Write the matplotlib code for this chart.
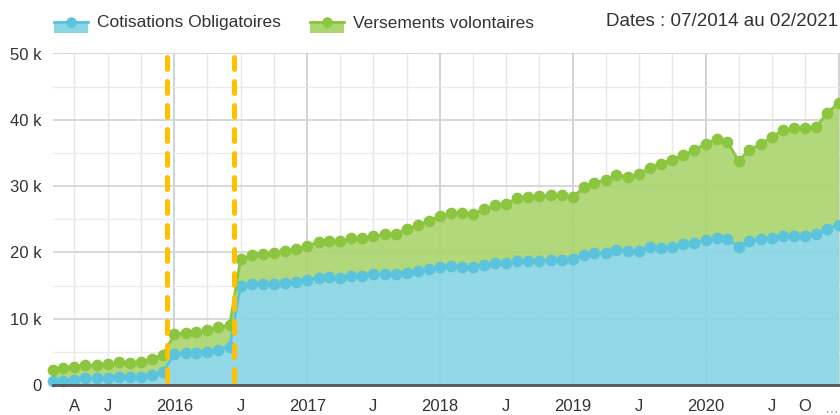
import numpy as np
import pandas as pd
import matplotlib
matplotlib.use("Agg")
import matplotlib.pyplot as plt
import matplotlib.dates as mdates
from matplotlib.patches import Rectangle
from matplotlib.lines import Line2D
from matplotlib.ticker import FuncFormatter, MultipleLocator

plt.rcParams['font.family'] = ['Liberation Sans', 'DejaVu Sans']

# Données mensuelles (euros), fév. 2015 -> janv. 2021
mois = pd.date_range("2015-02-01", "2021-01-01", freq="MS")

cotisations = [
    650, 650, 700, 1000, 1000, 1000, 1250, 1250, 1250, 1500, 2000,
    4650, 4850, 4900, 5000, 5350, 5750, 14950, 15200, 15200, 15250, 15450, 15600,
    15900, 16200, 16250, 16200, 16500, 16500, 16750, 16700, 16750, 16950, 17250, 17450,
    17750, 17950, 17850, 17750, 18100, 18350, 18350, 18750, 18750, 18750, 18850, 18900,
    19000, 19600, 19850, 19850, 20350, 20200, 20200, 20850, 20700, 20850, 21200, 21400,
    21850, 22200, 22000, 20850, 21700, 22000, 22200, 22500, 22500, 22500, 22700, 23500,
    24200,
]
versements = [
    1600, 1850, 2050, 2000, 2000, 2100, 2150, 2100, 2150, 2450, 2600,
    3000, 3050, 3100, 3300, 3400, 3250, 4050, 4400, 4550, 4700, 4800, 4850,
    5100, 5400, 5450, 5500, 5600, 5600, 5650, 6100, 6050, 6550, 6850, 7350,
    7750, 8050, 8050, 8050, 8400, 8750, 8950, 9450, 9650, 9750, 9850, 9800,
    9400, 10200, 10650, 11050, 11350, 11200, 11600, 11950, 12700, 13150, 13500, 14000,
    14550, 14850, 14700, 12950, 13800, 14300, 15250, 15900, 16200, 16200, 16250, 17600,
    18300,
]

series = ["Cotisations Obligatoires", "Versements volontaires"]
periode = "Dates : 07/2014 au 02/2021"

# repères verticaux (changements)
reperes = ["2015-12-11", "2016-06-13"]

tick_dates = ["2015-04-01", "2015-07-01", "2016-01-01", "2016-07-01", "2017-01-01",
              "2017-07-01", "2018-01-01", "2018-07-01", "2019-01-01", "2019-07-01",
              "2020-01-01", "2020-07-01", "2020-10-01"]
tick_labels = ["A", "J", "2016", "J", "2017", "J", "2018", "J", "2019", "J",
               "2020", "J", "O"]

bleu_fill = "#89d5e4"
bleu_line = "#5bc3db"
vert_fill = "#abd56f"
vert_line = "#8cc640"
orange = "#ffc000"

W, H = 840, 415
fig = plt.figure(figsize=(W / 100, H / 100), dpi=100)
ax = fig.add_axes([53 / W, (H - 385) / H, 1 - 53 / W, (385 - 53.5) / H])

x = mdates.date2num(mois)
ob = np.array(cotisations, dtype=float)
tot = ob + np.array(versements, dtype=float)

ax.fill_between(x, 0, ob, color=bleu_fill, alpha=0.92, lw=0, zorder=2)
ax.fill_between(x, ob, tot, color=vert_fill, alpha=0.92, lw=0, zorder=2)
ax.plot(x, ob, color=bleu_line, lw=2, marker="o", ms=7.4, mec=bleu_line, zorder=4, clip_on=False)
ax.plot(x, tot, color=vert_line, lw=2, marker="o", ms=7.4, mec=vert_line, zorder=4, clip_on=False)

for d in reperes:
    xd = mdates.date2num(pd.Timestamp(d))
    ax.plot([xd, xd], [49400, 0], color=orange, lw=3.6,
            linestyle=(0, (2.4, 2.4)), dash_capstyle="round", zorder=6)

ax.set_ylim(0, 50000)
ax.set_xlim(x[0], mdates.date2num(pd.Timestamp("2021-01-05")))

# grilles
ax.yaxis.set_major_locator(MultipleLocator(10000))
ax.yaxis.set_minor_locator(MultipleLocator(5000))
ax.xaxis.set_major_locator(mdates.YearLocator())
ax.xaxis.set_minor_locator(mdates.MonthLocator(bymonth=[4, 7, 10]))
ax.grid(True, which="major", axis="y", color="#d6d6d6", lw=1.3, zorder=0)
ax.grid(True, which="minor", axis="y", color="#ebebeb", lw=1.0, zorder=0)
ax.grid(True, which="major", axis="x", color="#d0d0d0", lw=1.3, zorder=0)
ax.grid(True, which="minor", axis="x", color="#e8e8e8", lw=1.0, zorder=0)
ax.set_axisbelow(True)

ax.yaxis.set_major_formatter(FuncFormatter(lambda v, p: "0" if v == 0 else f"{v/1000:.0f} k"))
ax.tick_params(axis="y", which="both", length=0, pad=8, labelsize=12, labelcolor="#333333")
ax.tick_params(axis="x", which="both", length=0, labelbottom=False)

for d, lab in zip(tick_dates, tick_labels):
    ax.text(mdates.date2num(pd.Timestamp(d)), -2100, lab, ha="center", va="top",
            fontsize=12, color="#333333", clip_on=False)
fig.text(831 / W, (H - 409) / H, "…", ha="center", va="center", fontsize=10, color="#999999")

for s in ["top", "right", "left"]:
    ax.spines[s].set_visible(False)
ax.spines["bottom"].set_color("#555555")
ax.spines["bottom"].set_linewidth(2)
ax.spines["bottom"].set_zorder(7)

# légende
def legend_item(x0, fill, line, label):
    fig.add_artist(Rectangle((x0 / W, (H - 33) / H), 34 / W, 12 / H,
                             transform=fig.transFigure, color=fill, lw=0))
    fig.add_artist(Line2D([x0 / W, (x0 + 34) / W], [(H - 22.5) / H] * 2,
                          transform=fig.transFigure, color=line, lw=2))
    fig.add_artist(Line2D([(x0 + 17) / W], [(H - 22) / H], transform=fig.transFigure,
                          marker="o", ms=6.5, color=line))
    fig.text((x0 + 43) / W, (H - 23) / H, label, ha="left", va="center",
             fontsize=12.5, color="#333333")

legend_item(54, bleu_fill, bleu_line, series[0])
legend_item(310, vert_fill, vert_line, series[1])
fig.text(838 / W, (H - 22) / H, periode, ha="right", va="center", fontsize=13.5, color="#333333")

fig.savefig("out.png", dpi=100)
